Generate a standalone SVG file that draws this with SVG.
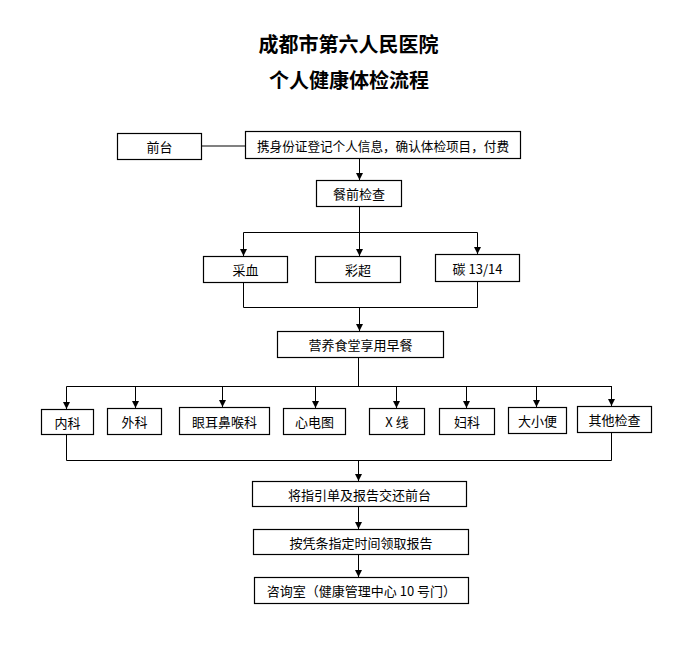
<svg xmlns="http://www.w3.org/2000/svg" width="696" height="645" viewBox="0 0 696 645">
<defs>
<style>
.box{fill:#fff;stroke:#000;stroke-width:1.2}
.t{font-family:"Noto Sans CJK SC","Liberation Sans",sans-serif;font-size:13px;fill:#000;text-anchor:middle;dominant-baseline:central}
.title{font-family:"Noto Sans CJK SC",sans-serif;font-size:20px;font-weight:bold;fill:#000;text-anchor:middle}
.ln{fill:none;stroke:#000;stroke-width:1}
.gl{fill:none;stroke:#808080;stroke-width:2}
</style>
<marker id="ad" markerWidth="8" markerHeight="8" refX="4" refY="8" orient="0" markerUnits="userSpaceOnUse" viewBox="0 0 8 8">
<path d="M0.5,1 L7.5,1 L4,8 Z" fill="#000"/>
</marker>
</defs>
<rect width="696" height="645" fill="#fff"/>
<text class="title" x="348.5" y="52">成都市第六人民医院</text>
<text class="title" x="349" y="88">个人健康体检流程</text>

<g id="connectors">
<path class="gl" d="M202,146 H245"/>
<path class="ln" d="M359.5,158 V180" marker-end="url(#ad)"/>
<path class="ln" d="M359.5,206 V232.5"/>
<path class="ln" d="M243.5,232.5 H477.5"/>
<path class="ln" d="M243.5,232.5 V256" marker-end="url(#ad)"/>
<path class="ln" d="M359.5,232.5 V256" marker-end="url(#ad)"/>
<path class="ln" d="M477.5,232.5 V254" marker-end="url(#ad)"/>
<path class="ln" d="M243.5,282 V307.5 H477.5 V281"/>
<path class="ln" d="M359.5,307.5 V331" marker-end="url(#ad)"/>
<path class="ln" d="M358.5,357 V386.5"/>
<path class="ln" d="M66.5,386.5 H612"/>
<path class="ln" d="M66.5,386.5 V409" marker-end="url(#ad)"/>
<path class="ln" d="M135.5,386.5 V408" marker-end="url(#ad)"/>
<path class="ln" d="M222.5,386.5 V407" marker-end="url(#ad)"/>
<path class="ln" d="M315.5,386.5 V408" marker-end="url(#ad)"/>
<path class="ln" d="M396.5,386.5 V408" marker-end="url(#ad)"/>
<path class="ln" d="M466.5,386.5 V408" marker-end="url(#ad)"/>
<path class="ln" d="M536.5,386.5 V407" marker-end="url(#ad)"/>
<path class="ln" d="M611.5,386.5 V406" marker-end="url(#ad)"/>
<path class="ln" d="M66.5,434 V460.5 H611.5 V432"/>
<path class="ln" d="M358.5,460.5 V481" marker-end="url(#ad)"/>
<path class="ln" d="M358.5,506 V529" marker-end="url(#ad)"/>
<path class="ln" d="M358.5,554 V577" marker-end="url(#ad)"/>
</g>

<g id="n-qiantai"><rect class="box" x="117.5" y="133.5" width="84" height="26"/><text class="t" x="159.5" y="146.5">前台</text></g>
<g id="n-dengji"><rect class="box" x="245.5" y="131.5" width="275" height="27"/><text class="t" x="383" y="145" textLength="252" lengthAdjust="spacingAndGlyphs">携身份证登记个人信息，确认体检项目，付费</text></g>
<g id="n-canqian"><rect class="box" x="316.5" y="180.5" width="85" height="26"/><text class="t" x="359" y="193.5">餐前检查</text></g>
<g id="n-caixue"><rect class="box" x="203.5" y="256.5" width="84" height="26"/><text class="t" x="245.5" y="269.5">采血</text></g>
<g id="n-caichao"><rect class="box" x="315.5" y="256.5" width="85" height="26"/><text class="t" x="358" y="269.5">彩超</text></g>
<g id="n-tan"><rect class="box" x="435.5" y="254.5" width="84" height="27"/><text class="t" x="477.5" y="268">碳 13/14</text></g>
<g id="n-zaocan"><rect class="box" x="277.5" y="331.5" width="166" height="26"/><text class="t" x="360.5" y="344.5">营养食堂享用早餐</text></g>
<g id="n-neike"><rect class="box" x="41.5" y="409.5" width="52" height="25"/><text class="t" x="67.5" y="422">内科</text></g>
<g id="n-waike"><rect class="box" x="107.5" y="408.5" width="54" height="26"/><text class="t" x="134.5" y="421.5">外科</text></g>
<g id="n-yanerbi"><rect class="box" x="179.5" y="407.5" width="90" height="27"/><text class="t" x="224.5" y="421">眼耳鼻喉科</text></g>
<g id="n-xindian"><rect class="box" x="283.5" y="408.5" width="62" height="26"/><text class="t" x="314.5" y="421.5">心电图</text></g>
<g id="n-xxian"><rect class="box" x="369.5" y="408.5" width="55" height="26"/><text class="t" x="397" y="421.5">X 线</text></g>
<g id="n-fuke"><rect class="box" x="439.5" y="408.5" width="55" height="26"/><text class="t" x="467" y="421.5">妇科</text></g>
<g id="n-daxiao"><rect class="box" x="508.5" y="407.5" width="58" height="26"/><text class="t" x="537.5" y="420.5">大小便</text></g>
<g id="n-qita"><rect class="box" x="577.5" y="406.5" width="74" height="26"/><text class="t" x="614.5" y="419.5">其他检查</text></g>
<g id="n-jiaohuan"><rect class="box" x="252.5" y="481.5" width="214" height="25"/><text class="t" x="359.5" y="494">将指引单及报告交还前台</text></g>
<g id="n-lingqu"><rect class="box" x="253.5" y="529.5" width="215" height="25"/><text class="t" x="361" y="542">按凭条指定时间领取报告</text></g>
<g id="n-zixun"><rect class="box" x="254.5" y="577.5" width="214" height="26"/><text class="t" x="361.5" y="590.5">咨询室（健康管理中心 10 号门）</text></g>
</svg>
